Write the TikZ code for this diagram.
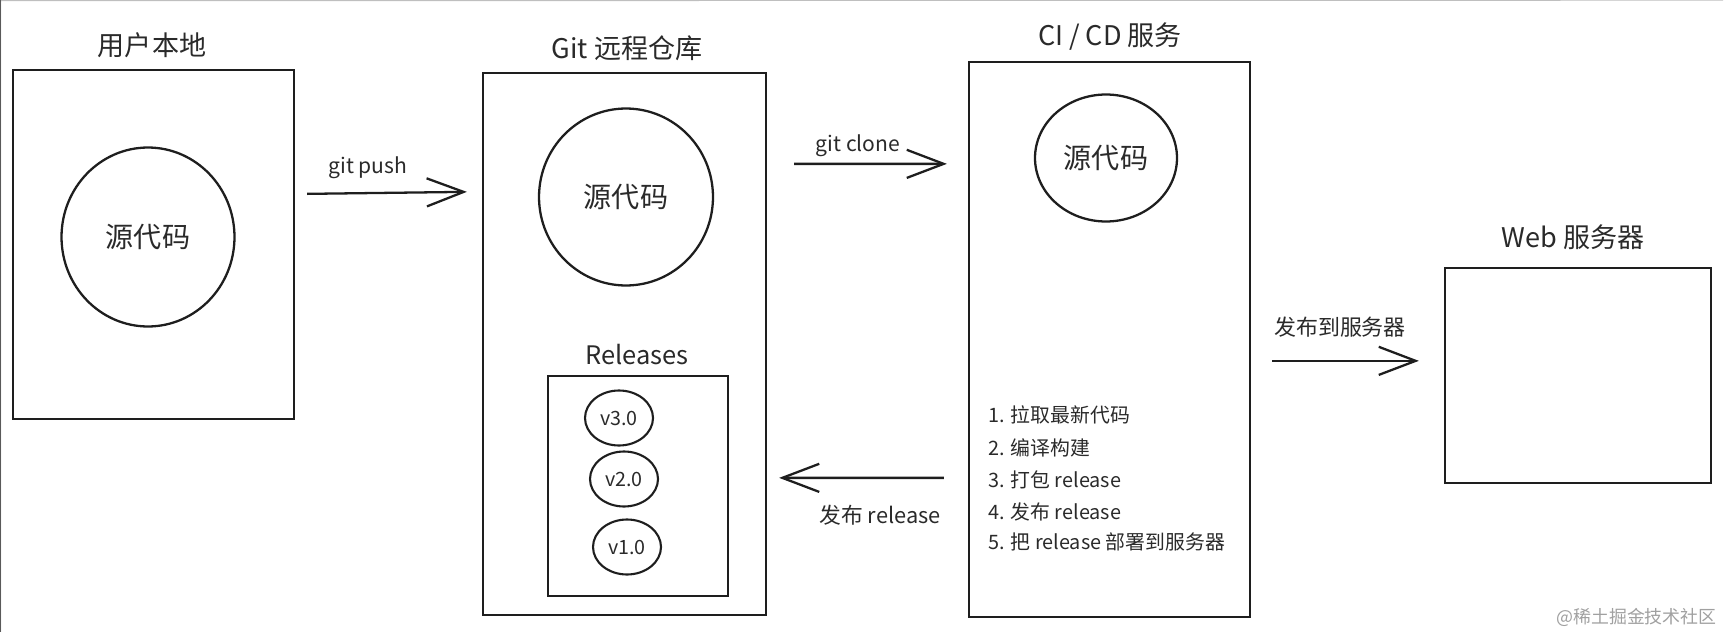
\documentclass[tikz,border=0pt]{standalone}
\usepackage{fontspec}
\setmainfont{Noto Sans CJK SC}
\usetikzlibrary{arrows.meta,fit,shapes.geometric}
\definecolor{ink}{HTML}{1E1E1E}
\definecolor{txt}{HTML}{2A2A2A}
\definecolor{wm}{HTML}{A0A0A0}
\begin{document}
\begin{tikzpicture}[x=0.02cm,y=-0.02cm,
  box/.style={draw=ink,line width=1.3pt,inner sep=0pt},
  blob/.style={draw=ink,line width=1.3pt,ellipse,inner sep=0pt,font=\fontsize{16}{18}\selectfont,text=txt},
  ver/.style={draw=ink,line width=1.2pt,ellipse,inner sep=0pt,minimum width=1.36cm,minimum height=1.10cm,font=\fontsize{11.2}{13}\selectfont,text=txt},
  ttl/.style={font=\fontsize{15.4}{18}\selectfont,text=txt,inner sep=0pt},
  lbl/.style={font=\fontsize{12}{14}\selectfont,text=txt,inner sep=0pt},
  item/.style={font=\fontsize{11.3}{13}\selectfont,text=txt,inner sep=0pt,anchor=west},
  arr/.style={draw=ink,line width=1.3pt,-{Straight Barb[length=21pt,width=16pt]}}]
\useasboundingbox (0,0) rectangle (1724,632);
\draw[line width=0.8pt,draw=black!25] (1723,0) -- (0.5,0.5) -- (0.5,632);
\draw[line width=1pt,draw=black!65] (0.5,0) -- (0.5,632);

% local
\node[ttl] (tlocal) at (152,45) {用户本地};
\node[box,fit={(13,70)(294,419)}] (local) {};
\node[blob,minimum width=3.46cm,minimum height=3.58cm] (src1) at (148,237) {源代码};

% remote
\node[ttl] (tremote) at (627,48) {Git 远程仓库};
\node[box,fit={(483,73)(766,615)}] (remote) {};
\node[blob,minimum width=3.48cm,minimum height=3.54cm] (src2) at (626,197) {源代码};
\node[ttl,font=\fontsize{14.5}{17}\selectfont] (trel) at (637,355) {Releases};
\node[box,line width=1.2pt,fit={(548,376)(728,596)}] (rel) {};
\node[ver] (v3) at (619,418) {v3.0};
\node[ver] (v2) at (624,479) {v2.0};
\node[ver] (v1) at (627,547) {v1.0};

% CI/CD
\node[ttl] (tci) at (1110,37) {CI / CD 服务};
\node[box,fit={(969,62)(1250,617)}] (ci) {};
\node[blob,minimum width=2.84cm,minimum height=2.54cm] (src3) at (1106,158) {源代码};
\node[item] (l1) at (988,415) {1. 拉取最新代码};
\node[item] (l2) at (988,448) {2. 编译构建};
\node[item] (l3) at (988,480) {3. 打包 release};
\node[item] (l4) at (988,512) {4. 发布 release};
\node[item] (l5) at (988,542) {5. 把 release 部署到服务器};

% web
\node[ttl] (tweb) at (1573,237) {Web 服务器};
\node[box,fit={(1445,268)(1711,483)}] (web) {};

% connectors
\draw[arr] ([shift={(12,125)}]local.north east) -- ([shift={(-15,120)}]remote.north west);
\node[lbl] (lpush) at (368,168) {git push};
\draw[arr] ([shift={(27,92)}]remote.north east) -- ([shift={(-21,103)}]ci.north west);
\node[lbl] (lclone) at (858,146) {git clone};
\draw[arr] ([shift={(-24,417)}]ci.north west) -- ([shift={(12,406)}]remote.north east);
\node[lbl,font=\fontsize{12.4}{14}\selectfont] (lrel) at (880,515) {发布 release};
\draw[arr] ([shift={(21,300)}]ci.north east) -- ([shift={(-25,94)}]web.north west);
\node[lbl,font=\fontsize{12.5}{14}\selectfont] (lweb) at (1340,327) {发布到服务器};

\node[font=\fontsize{10.2}{12}\selectfont,text=wm,inner sep=0pt,anchor=east] (wmk) at (1717,617) {@稀土掘金技术社区};
\end{tikzpicture}
\end{document}
